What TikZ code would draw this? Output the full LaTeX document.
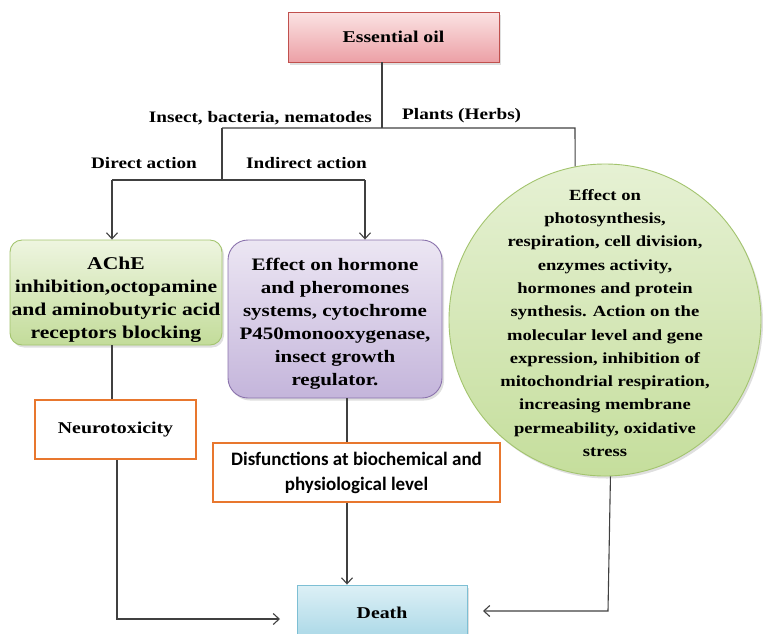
\documentclass[tikz,border=0pt]{standalone}
\usepackage{fontspec}
\setmainfont{Liberation Serif}[FakeStretch=1.2]
\newfontfamily\calib{Carlito}
\usetikzlibrary{arrows.meta,shadows,calc}
\definecolor{linec}{HTML}{404040}
\definecolor{oiltop}{HTML}{FBE3E3}
\definecolor{oilbot}{HTML}{ECA0A6}
\definecolor{oilbd}{HTML}{C0504D}
\definecolor{grtop}{HTML}{EEF5E0}
\definecolor{grbot}{HTML}{C3DC9A}
\definecolor{grbd}{HTML}{A3C46E}
\definecolor{putop}{HTML}{ECE6F3}
\definecolor{pubot}{HTML}{C4B5DB}
\definecolor{pubd}{HTML}{8A72AC}
\definecolor{cirtop}{HTML}{E6F1D4}
\definecolor{cirbot}{HTML}{C5DE9C}
\definecolor{orng}{HTML}{E8772E}
\definecolor{dtop}{HTML}{DDF0F6}
\definecolor{dbot}{HTML}{A8D7E6}
\definecolor{dbd}{HTML}{7DBFD4}
\begin{document}
\begin{tikzpicture}[x=1pt,y=-1pt,
  conn/.style={draw=linec, line width=1.1pt},
  arr/.style={conn, -{Straight Barb[length=6pt,width=11pt,line width=1.1pt]}},
  lbl/.style={font=\fontsize{16}{19}\selectfont\bfseries, inner sep=0pt},
  shad/.style={drop shadow={opacity=0.25, shadow xshift=2pt, shadow yshift=-2.5pt}},
  oilbox/.style={shad, draw=oilbd, line width=0.8pt, top color=oiltop, bottom color=oilbot,
    minimum width=211pt, minimum height=50pt, inner sep=0pt,
    font=\fontsize{16.5}{20}\selectfont\bfseries},
  greenbox/.style={shad, draw=grbd, line width=0.9pt, rounded corners=12pt, top color=grtop, bottom color=grbot,
    inner sep=0pt},
  purplebox/.style={shad, draw=pubd, line width=0.9pt, rounded corners=20pt, top color=putop, bottom color=pubot,
    inner sep=0pt},
  boxtext/.style={inner sep=0pt, align=center},
  circlebox/.style={shad, circle, draw=grbd, line width=0.9pt, top color=cirtop, bottom color=cirbot,
    minimum size=312pt, inner sep=0pt},
  orbox/.style={draw=orng, line width=2pt, fill=white, inner sep=0pt, align=center},
  deathbox/.style={shad, draw=dbd, line width=0.9pt, top color=dtop, bottom color=dbot,
    minimum width=170pt, minimum height=56pt, inner sep=0pt,
    font=\fontsize{16.5}{20}\selectfont\bfseries}
]
\useasboundingbox (0,0) rectangle (763,633);
\clip (0,0) rectangle (763,633);

% nodes
\node[oilbox] (oil) at (393.5,37) {Essential oil};
\node[greenbox, minimum width=212pt, minimum height=105pt] (ache) at (116,292.5) {};
\node[boxtext, font=\fontsize{18}{23}\selectfont\bfseries] (achetext) at (116,300)
  {AChE\\inhibition,octopamine\\and aminobutyric acid\\receptors blocking};
\node[purplebox, minimum width=214pt, minimum height=158pt] (horm) at (335,319) {};
\node[boxtext, font=\fontsize{17.5}{23}\selectfont\bfseries] (hormtext) at (335,324)
  {Effect on hormone\\and pheromones\\systems, cytochrome\\P450monooxygenase,\\insect growth\\regulator.};
\node[circlebox] (plant) at (605,320) {};
\node[boxtext, font=\fontsize{15.5}{23.3}\selectfont\bfseries] (planttext) at (605,323)
  {Effect on\\photosynthesis,\\respiration, cell division,\\enzymes activity,\\hormones and protein\\synthesis. Action on the\\molecular level and gene\\expression, inhibition of\\mitochondrial respiration,\\increasing membrane\\permeability, oxidative\\stress};
\node[orbox, minimum width=161pt, minimum height=59pt, font=\fontsize{16.5}{20}\selectfont\bfseries] (neuro) at (115.5,429.5) {Neurotoxicity};
\node[orbox, minimum width=287pt, minimum height=59pt, font=\calib\fontsize{19}{25}\selectfont\bfseries] (disf) at (356.5,472.5)
  {Disfunctions at biochemical and\\physiological level};
\node[deathbox] (death) at (382,613) {Death};

% labels
\node[lbl, anchor=east] (lins) at (372,118) {Insect, bacteria, nematodes};
\node[lbl, anchor=west] (lpla) at (402,116) {Plants (Herbs)};
\node[lbl] (ldir) at (144,163) {Direct action};
\node[lbl, anchor=west] (lind) at (246,163) {Indirect action};

% junction coordinates
\coordinate (j1) at (382,128);
\coordinate (jl) at (222,128);
\coordinate (jr) at (575,128);
\coordinate (j2) at (222,180);
\coordinate (jdl) at (112,180);
\coordinate (jdr) at (365,180);
\coordinate (jm) at (347,0);
\coordinate (nb) at (117,619);
\coordinate (nbe) at (280,619);
\coordinate (pb) at (608,611);
\coordinate (pbe) at (483,611);

% connectors
\draw[conn] (oil.south -| j1) -- (j1);
\draw[conn] (jl) -- (jr) -- (plant.101.1);
\draw[conn] (jl) -- (j2);
\draw[conn] (jdl) -- (jdr);
\draw[arr] (jdl) -- (ache.north -| jdl);
\draw[arr] (jdr) -- (horm.north -| jdr);
\draw[conn] (ache.south -| jdl) -- (neuro.north -| jdl);
\draw[arr] (neuro.south -| nb) -- (nb) -- (nbe);
\draw[conn] (horm.south -| jm) -- (disf.north -| jm);
\draw[arr] (disf.south -| jm) -- (death.north -| jm);
\draw[arr] (plant.-88.9) -- (pb) -- (pbe);
\end{tikzpicture}
\end{document}
